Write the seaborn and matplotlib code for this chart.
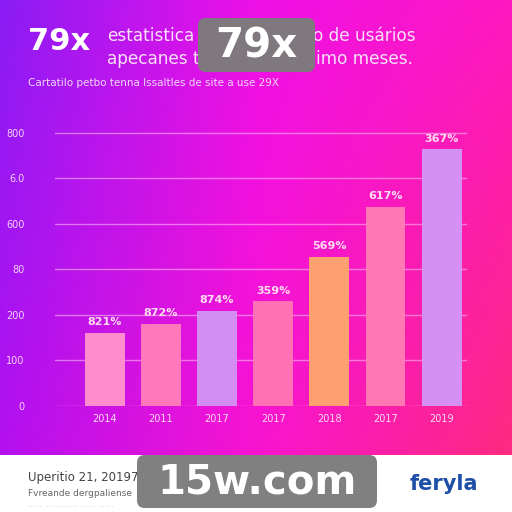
import numpy as np
import pandas as pd
import matplotlib
matplotlib.use("Agg")
from matplotlib import pyplot as plt
from matplotlib.patches import FancyBboxPatch
import seaborn as sns

# dados
anos = ["2014", "2011", "2017", "2017", "2018", "2017", "2019"]
valores = [161, 180, 209, 230, 328, 438, 564]
rotulos = ["821%", "872%", "874%", "359%", "569%", "617%", "367%"]
cores = ["#ff8ccc", "#ff78bc", "#d28cf2", "#ff70b4", "#ffa070", "#ff78b4", "#d490f2"]
ticks_y = [0, 100, 200, 300, 400, 500, 600]
ticks_y_txt = ["0", "100", "200", "80", "600", "6.0", "800"]

sns.set_style("white")
W = H = 512
fig = plt.figure(figsize=(5.12, 5.12), dpi=100)
fig.patch.set_facecolor("white")


def fx(px):
    return px / W


def fy(py):
    return 1 - py / H


# fundo em degradê
def hexrgb(h):
    return np.array([int(h[i:i + 2], 16) for i in (1, 3, 5)]) / 255.0


topo = [hexrgb(c) for c in ["#8a1cf5", "#ee10e8", "#ff18c0"]]
base = [hexrgb(c) for c in ["#b410f0", "#f814d0", "#ff2a80"]]
nx, ny = 256, 128
xs = np.linspace(0, 1, nx)
img = np.zeros((ny, nx, 3))
for k in range(3):
    t = np.interp(xs, [0, 0.5, 1], [c[k] for c in topo])
    b = np.interp(xs, [0, 0.5, 1], [c[k] for c in base])
    v = np.linspace(0, 1, ny)[:, None]
    img[:, :, k] = t[None, :] * (1 - v) + b[None, :] * v
bg = fig.add_axes([0, fy(455), 1, 455 / H])
bg.imshow(img, aspect="auto", extent=[0, 1, 0, 1])
bg.axis("off")

# gráfico de barras
ax = fig.add_axes([fx(55), fy(406), fx(412), 275.1 / H])
ax.patch.set_alpha(0)
df = pd.DataFrame({"pos": list(range(len(anos))), "valor": valores})
sns.barplot(data=df, x="pos", y="valor", hue="pos", palette=cores,
            width=0.71, legend=False, ax=ax, saturation=1, zorder=3,
            linewidth=0, edgecolor="none")
ax.set_xlim(-0.884, 6.45)
ax.set_ylim(0, 604)
for y in ticks_y:
    ax.axhline(y, color="#ffc8f4", alpha=0.55, lw=1, zorder=1)
ax.set_yticks(ticks_y)
ax.set_yticklabels(ticks_y_txt, color="#f4d4f6", fontsize=7)
ax.set_xticks(range(len(anos)))
ax.set_xticklabels(anos, color="#f8dcf2", fontsize=7)
ax.tick_params(length=0)
ax.tick_params(axis="y", pad=22)
ax.tick_params(axis="x", pad=6)
ax.set_xlabel("")
ax.set_ylabel("")
for s in ax.spines.values():
    s.set_visible(False)
barras = sorted([p for p in ax.patches if p.get_height() > 0], key=lambda p: p.get_x())
for p, txt in zip(barras, rotulos):
    ax.annotate(txt, (p.get_x() + p.get_width() / 2, p.get_height()),
                xytext=(0, 4), textcoords="offset points", ha="center", va="bottom",
                color="#ffdcf0", fontsize=8, fontweight="bold")

# cabeçalho
fig.text(fx(28), fy(41), "79x", color="white", fontsize=22, fontweight="bold",
         va="center", ha="left")
cab = dict(color="#f8e0f8", fontsize=12.2, va="center", ha="left")
fig.text(fx(107), fy(36), "estatistica", **cab)
fig.text(fx(313), fy(36), "o de usários", **cab)
fig.text(fx(107), fy(59), "apecanes t", **cab)
fig.text(fx(316), fy(59), "imo meses.", **cab)
fig.text(fx(28), fy(83), "Cartatilo petbo tenna lssaltles de site a use 29X",
         color="#f0d8f8", fontsize=7.5, va="center", ha="left")

# rodapé
fig.text(fx(28), fy(477), "Uperitio 21, 20197", color="#444444", fontsize=8.5,
         va="center", ha="left")
fig.text(fx(28), fy(493), "Fvreande dergpaliense", color="#666666", fontsize=6.5,
         va="center", ha="left")
fig.text(fx(28), fy(505), "... ... ... .......... ... ... ... ...", color="#cccccc",
         fontsize=5, va="center", ha="left")
fig.text(fx(410), fy(484), "feryla", color="#1d4fa8", fontsize=15, fontweight="bold",
         va="center", ha="left")

# marcas d'água
for (x0, y0, x1, y1, txt) in [(198, 18, 315, 72, "79x"), (137, 455, 377, 508, "15w.com")]:
    box = FancyBboxPatch((fx(x0), fy(y1)), fx(x1 - x0), (y1 - y0) / H,
                         boxstyle="round,pad=0,rounding_size=0.015",
                         transform=fig.transFigure, facecolor="#7c7c7c",
                         edgecolor="none", alpha=0.97, zorder=10)
    fig.patches.append(box)
    fig.text(fx((x0 + x1) / 2), fy((y0 + y1) / 2 + 1), txt, color="white",
             fontsize=29, fontweight="bold", ha="center", va="center", zorder=11)

fig.savefig("out.png", dpi=100)
